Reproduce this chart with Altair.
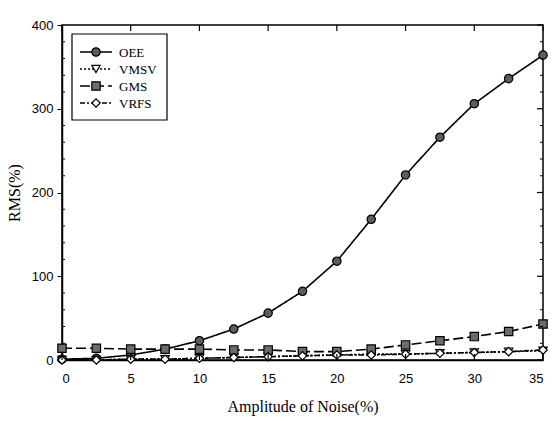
import altair as alt
import pandas as pd

# Noise amplitude (%) and RMS error (%) for each method
noise = [0, 2.5, 5, 7.5, 10, 12.5, 15, 17.5, 20, 22.5, 25, 27.5, 30, 32.5, 35]
oee = [1, 2, 6, 13, 23, 37, 56, 82, 118, 168, 221, 266, 306, 336, 364]
vmsv = [0, 0, 1, 1, 2, 3, 4, 5, 6, 7, 7, 8, 9, 10, 11]
gms = [14, 14, 13, 13, 13, 12, 12, 10, 10, 13, 18, 23, 28, 34, 43]
vrfs = [0, 0, 1, 1, 2, 3, 4, 5, 6, 6, 7, 8, 9, 10, 12]
series_names = ["OEE", "VMSV", "GMS", "VRFS"]
x_ticks = [0, 5, 10, 15, 20, 25, 30, 35]
y_ticks = [0, 100, 200, 300, 400]
y_minor = [v for v in range(0, 401, 20) if v % 100]

W, H = 481, 335

rows = []
for z, (name, vals) in enumerate(zip(series_names, [oee, vmsv, gms, vrfs])):
    for xv, yv in zip(noise, vals):
        rows.append({"noise": xv, "rms": yv, "series": name, "z": z})
df = pd.DataFrame(rows)

x_scale = alt.Scale(domain=[0, 35], nice=False, zero=False)
y_scale = alt.Scale(domain=[0, 400], nice=False)
shape_scale = alt.Scale(domain=series_names,
                        range=["circle", "triangle-down", "square", "diamond"])
dash_scale = alt.Scale(domain=series_names,
                       range=[[1, 0], [2, 2], [10, 4], [5, 2, 2, 2]])
fill_scale = alt.Scale(domain=series_names,
                       range=["#5c5c5c", "white", "#6c6c6c", "white"])

serif = "Liberation Serif"
sans = "Liberation Sans"

x_enc = alt.X("noise:Q", scale=x_scale,
              axis=alt.Axis(values=x_ticks, title="Amplitude of Noise(%)",
                            ticks=False, labelPadding=12, grid=False,
                            labelFont=sans, labelFontSize=13, labelColor="black",
                            titleFont=serif, titleFontSize=16, titleFontWeight="normal",
                            titleColor="black", titlePadding=13,
                            domainColor="black", domainWidth=1.5))
y_enc = alt.Y("rms:Q", scale=y_scale,
              axis=alt.Axis(values=y_ticks, title="RMS(%)", tickSize=5,
                            tickColor="black", labelPadding=4, grid=False,
                            labelFont=sans, labelFontSize=13, labelColor="black",
                            titleFont=serif, titleFontSize=16, titleFontWeight="normal",
                            titleColor="black", titlePadding=9,
                            domainColor="black", domainWidth=1.5))

base = alt.Chart(df)

lines = base.mark_line(color="black", strokeWidth=1.6).encode(
    x=x_enc,
    y=y_enc,
    detail="series:N",
    strokeDash=alt.StrokeDash("series:N", scale=dash_scale, legend=None),
)

points = base.mark_point(filled=True, stroke="black", strokeWidth=1.2,
                         size=70, opacity=1).encode(
    x=alt.X("noise:Q", scale=x_scale),
    y=alt.Y("rms:Q", scale=y_scale),
    shape=alt.Shape("series:N", scale=shape_scale, legend=None),
    fill=alt.Fill("series:N", scale=fill_scale, legend=None),
    order=alt.Order("z:Q"),
)

# Inward tick marks on the frame edges
xt = alt.Chart(pd.DataFrame({"t": x_ticks}))
yt = alt.Chart(pd.DataFrame({"t": y_ticks}))
ym = alt.Chart(pd.DataFrame({"t": y_minor}))
bottom_ticks = xt.mark_rule(color="black", strokeWidth=1.2).encode(
    x=alt.X("t:Q", scale=x_scale), y=alt.value(H), y2=alt.value(H - 6))
top_ticks = xt.mark_rule(color="black", strokeWidth=1.2).encode(
    x=alt.X("t:Q", scale=x_scale), y=alt.value(0), y2=alt.value(6))
right_ticks = yt.mark_rule(color="black", strokeWidth=1.2).encode(
    y=alt.Y("t:Q", scale=y_scale), x=alt.value(W), x2=alt.value(W - 6))
left_minor = ym.mark_rule(color="black", strokeWidth=1).encode(
    y=alt.Y("t:Q", scale=y_scale), x=alt.value(0), x2=alt.value(3))
right_minor = ym.mark_rule(color="black", strokeWidth=1).encode(
    y=alt.Y("t:Q", scale=y_scale), x=alt.value(W), x2=alt.value(W - 3))

# Boxed legend in the upper left corner
legend_box = alt.Chart(pd.DataFrame({"k": [0]})).mark_rect(
    fill="white", stroke="black", strokeWidth=1.2).encode(
    x=alt.value(10), x2=alt.value(105), y=alt.value(9), y2=alt.value(95))

legend_layers = [legend_box]
row_y = [27, 44, 61, 78]
for name, py in zip(series_names, row_y):
    ld = alt.Chart(pd.DataFrame({"series": [name]}))
    legend_layers.append(ld.mark_rule(color="black", strokeWidth=1.6).encode(
        x=alt.value(18), x2=alt.value(50), y=alt.value(py),
        strokeDash=alt.StrokeDash("series:N", scale=dash_scale, legend=None)))
    legend_layers.append(ld.mark_point(filled=True, stroke="black", strokeWidth=1.2,
                                       size=70, opacity=1).encode(
        x=alt.value(34), y=alt.value(py),
        shape=alt.Shape("series:N", scale=shape_scale, legend=None),
        fill=alt.Fill("series:N", scale=fill_scale, legend=None)))
    legend_layers.append(ld.mark_text(align="left", baseline="middle", font=serif,
                                      fontSize=13, color="black").encode(
        x=alt.value(57), y=alt.value(py + 1), text="series:N"))

chart = alt.layer(
    lines, points, bottom_ticks, top_ticks, right_ticks, left_minor, right_minor,
    *legend_layers
).properties(
    width=W,
    height=H,
    autosize=alt.AutoSizeParams(type="none"),
    padding={"left": 62, "top": 25, "right": 13, "bottom": 61},
    background="white",
).configure_view(
    stroke="black", strokeWidth=1.5
)

chart.save("out.html", embed_options={"renderer": "svg", "actions": False})
